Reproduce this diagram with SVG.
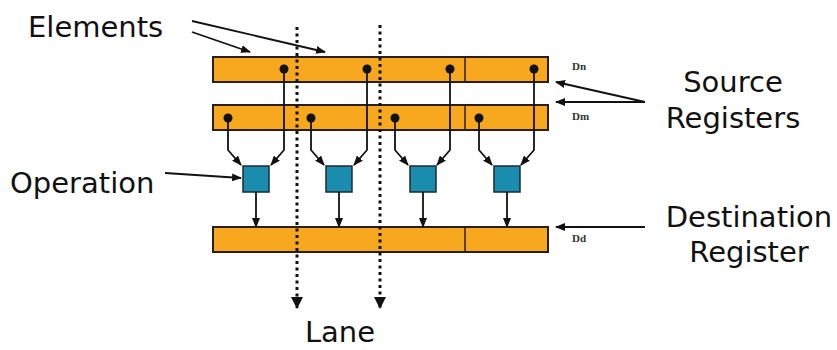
<svg xmlns="http://www.w3.org/2000/svg" width="837" height="350" viewBox="0 0 837 350">
<style>
.reg{fill:#F7A81F;stroke:#2a1f0e;stroke-width:2}
.op{fill:#1A8CAE;stroke:#1c2a30;stroke-width:1.5}
.div{stroke:#2a1f0e;stroke-width:1.5}
.a{fill:none;stroke:#111;stroke-width:1.8;marker-end:url(#ah)}
.dot{fill:#111}
.lane{fill:none;stroke:#111;stroke-width:3;stroke-dasharray:3 3.5;marker-end:url(#lh)}
.lbl{font-family:"DejaVu Sans",Verdana,sans-serif;font-size:29px;fill:#111}
.sm{font-family:"Liberation Serif",serif;font-size:11px;font-weight:bold;fill:#333}
</style>
<defs>
<marker id="ah" markerWidth="10" markerHeight="8" refX="9" refY="4" orient="auto" markerUnits="userSpaceOnUse"><path d="M0,0 L10,4 L0,8 z" fill="#111"/></marker>
<marker id="lh" markerWidth="12" markerHeight="12" refX="11" refY="6" orient="auto" markerUnits="userSpaceOnUse"><path d="M0,0 L12,6 L0,12 z" fill="#111"/></marker>
</defs>

<g id="dn-register">
<rect class="reg" x="213" y="57" width="335" height="25"/>
<line class="div" x1="465" y1="57" x2="465" y2="82"/>
<text class="sm" x="572" y="70">Dn</text>
</g>
<g id="dm-register">
<rect class="reg" x="213" y="105" width="335" height="25"/>
<line class="div" x1="465" y1="105" x2="465" y2="130"/>
<text class="sm" x="572" y="120">Dm</text>
</g>
<g id="dd-register">
<rect class="reg" x="213" y="227" width="335" height="25"/>
<line class="div" x1="465" y1="227" x2="465" y2="252"/>
<text class="sm" x="572" y="242">Dd</text>
</g>

<g id="op1"><rect class="op" x="243" y="166" width="26" height="26"/></g>
<g id="op2"><rect class="op" x="326" y="166" width="26" height="26"/></g>
<g id="op3"><rect class="op" x="410" y="166" width="26" height="26"/></g>
<g id="op4"><rect class="op" x="494" y="166" width="26" height="26"/></g>

<g id="connectors">
<path class="a" d="M228,118 V150 L241,165"/>
<path class="a" d="M284,69 V150 L271,165"/>
<path class="a" d="M256,192 V227"/>
<path class="a" d="M311,118 V150 L324,165"/>
<path class="a" d="M367,69 V150 L354,165"/>
<path class="a" d="M339,192 V227"/>
<path class="a" d="M395,118 V150 L408,165"/>
<path class="a" d="M450,69 V150 L437,165"/>
<path class="a" d="M423,192 V227"/>
<path class="a" d="M479,118 V150 L492,165"/>
<path class="a" d="M534,69 V150 L521,165"/>
<path class="a" d="M507,192 V227"/>
<circle class="dot" cx="284" cy="69" r="4.5"/>
<circle class="dot" cx="367" cy="69" r="4.5"/>
<circle class="dot" cx="450" cy="69" r="4.5"/>
<circle class="dot" cx="534" cy="69" r="4.5"/>
<circle class="dot" cx="228" cy="118" r="4.5"/>
<circle class="dot" cx="311" cy="118" r="4.5"/>
<circle class="dot" cx="395" cy="118" r="4.5"/>
<circle class="dot" cx="479" cy="118" r="4.5"/>
<path class="lane" d="M297,27 V308"/>
<path class="lane" d="M380,25 V308"/>
<path class="a" d="M192,32 L250,52"/>
<path class="a" d="M192,21 L325,52"/>
<path class="a" d="M645,102 L556,82"/>
<path class="a" d="M645,102 L556,102"/>
<path class="a" d="M645,227 L556,227"/>
<path class="a" d="M165,173 L241,178"/>
</g>

<g id="labels">
<text class="lbl" x="28" y="37">Elements</text>
<text class="lbl" x="10" y="193">Operation</text>
<text class="lbl" x="733" y="92" text-anchor="middle">Source</text>
<text class="lbl" x="733" y="128" text-anchor="middle">Registers</text>
<text class="lbl" x="749" y="227" text-anchor="middle">Destination</text>
<text class="lbl" x="749" y="262" text-anchor="middle">Register</text>
<text class="lbl" x="340" y="342" text-anchor="middle">Lane</text>
</g>
</svg>
